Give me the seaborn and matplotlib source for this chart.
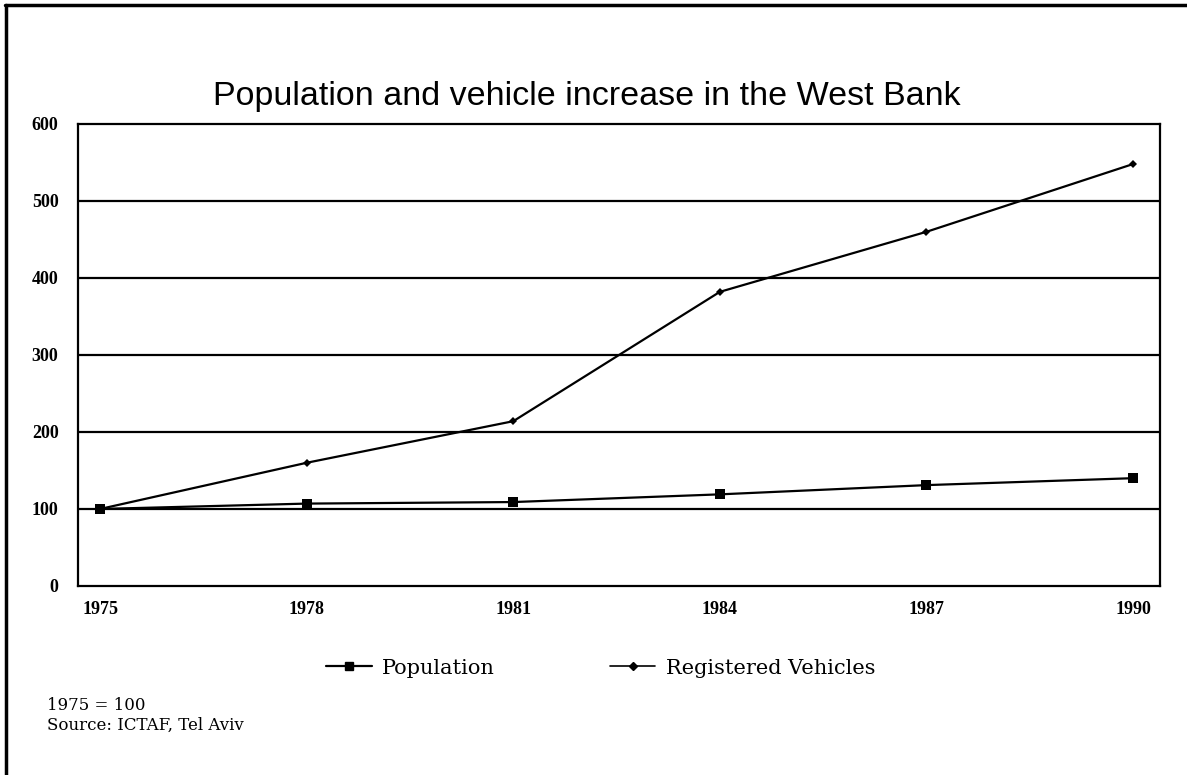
import matplotlib
matplotlib.use("Agg")
import matplotlib.pyplot as plt
from matplotlib.lines import Line2D
import seaborn as sns
import pandas as pd

years = [1975, 1978, 1981, 1984, 1987, 1990]
population = [100, 107, 109, 119, 131, 140]
vehicles = [100, 160, 214, 382, 460, 548]
series_names = ["Population", "Registered Vehicles"]
y_ticks = [0, 100, 200, 300, 400, 500, 600]

df = pd.DataFrame({
    "Year": years * 2,
    "Index": population + vehicles,
    "Series": [series_names[0]] * len(years) + [series_names[1]] * len(years),
})

sns.set_theme(style="white")
plt.rcParams["font.family"] = ["Liberation Serif", "DejaVu Serif"]
plt.rcParams["text.color"] = "black"

fig = plt.figure(figsize=(11.87, 7.75), dpi=100)
ax = fig.add_axes([0.0657, 0.2439, 0.9115, 0.5961])

sns.lineplot(
    data=df, x="Year", y="Index", hue="Series", style="Series",
    palette={series_names[0]: "black", series_names[1]: "black"},
    markers={series_names[0]: "s", series_names[1]: "D"},
    dashes=False, linewidth=1.6, ax=ax, legend=False,
    markersize=7, markeredgewidth=0,
)
# smaller diamonds for the vehicle series
for line in ax.get_lines():
    if line.get_marker() == "D":
        line.set_markersize(4.5)

ax.set_xlim(1974.68, 1990.39)
ax.set_ylim(0, 600)
ax.set_yticks(y_ticks)
ax.set_yticklabels([str(v) for v in y_ticks], fontsize=13, fontweight="bold",
                   color="black")
ax.set_xticks(years)
ax.set_xticklabels([str(y) for y in years], fontsize=13, fontweight="bold",
                   color="black")
ax.set_xlabel("")
ax.set_ylabel("")
for y in y_ticks[1:-1]:
    ax.axhline(y, color="black", linewidth=1.6, zorder=0)
for sp in ax.spines.values():
    sp.set_color("black")
    sp.set_linewidth(1.6)
    sp.set_visible(True)
ax.tick_params(axis="x", direction="in", length=4, width=1, color="black", pad=11)
ax.tick_params(axis="y", length=0, pad=14)

fig.text(0.494, 0.875, "Population and vehicle increase in the West Bank",
         ha="center", va="center", fontsize=24.5, family="Liberation Sans",
         color="black")

handles = [
    Line2D([], [], color="black", linewidth=1.6, marker="s", markersize=6),
    Line2D([], [], color="black", linewidth=1.2, marker="D", markersize=4),
]
fig.legend(handles, series_names, loc="center", bbox_to_anchor=(0.506, 0.138),
           ncol=2, frameon=False, handlelength=2.2,
           columnspacing=5.5, handletextpad=0.5, labelcolor="black",
           prop={"family": "DejaVu Serif", "size": 15})

fig.text(0.040, 0.090, "1975 = 100", fontsize=12, family="DejaVu Serif",
         va="center", color="black")
fig.text(0.040, 0.064, "Source: ICTAF, Tel Aviv", fontsize=12, family="DejaVu Serif",
         va="center", color="black")

# page frame (top and left edges)
fig.add_artist(Line2D([0.004, 1.0], [0.994, 0.994], color="black", linewidth=2.5,
                      transform=fig.transFigure))
fig.add_artist(Line2D([0.005, 0.005], [0.0, 0.994], color="black", linewidth=2.5,
                      transform=fig.transFigure))

fig.savefig("out.png", dpi=100)
